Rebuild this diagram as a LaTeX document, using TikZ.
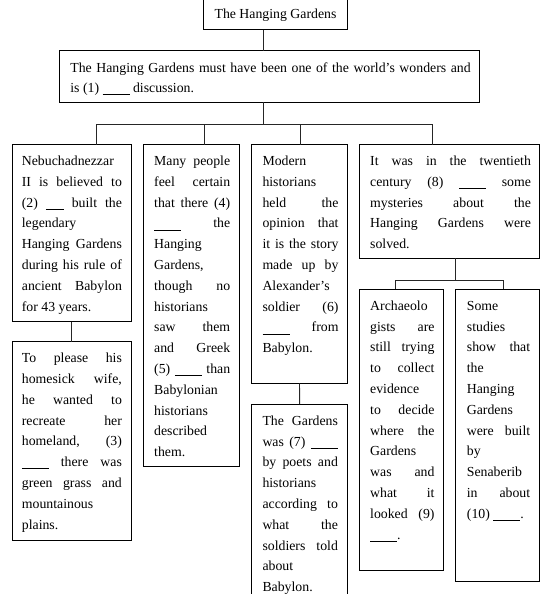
\documentclass[tikz,border=0pt]{standalone}
\usepackage{fontspec}
\setmainfont{Liberation Serif}
\newcommand{\blnk}[1][27pt]{\rule[-2.3pt]{#1}{0.7pt}}
\newcommand{\jst}[1]{\makebox[\linewidth][s]{#1}\par}
\newcommand{\lft}[1]{\makebox[\linewidth][l]{#1}\par}
\newcommand{\para}[2]{\parbox[t]{#1}{\fontsize{13.8}{20.8}\selectfont\parskip=0pt\relax #2}}
\begin{document}
\begin{tikzpicture}[x=1pt,y=-1pt,
  box/.style={draw=black, line width=0.9pt, inner sep=0pt, outer sep=0pt, anchor=north west, fill=none},
  txt/.style={inner sep=0pt, anchor=base west},
  link/.style={draw=black!85, line width=0.9pt}]
\useasboundingbox (0,0) rectangle (551,594);
\clip (0,0) rectangle (551,594);
% boxes
\node[box, minimum width=144.4pt, minimum height=31pt] (top) at (203.3,-1.3) {};
\node[box, minimum width=419.3pt, minimum height=51.6pt] (mid) at (59.7,50.7) {};
\node[box, minimum width=119.7pt, minimum height=177.2pt] (a) at (12,144.5) {};
\node[box, minimum width=119.7pt, minimum height=198.3pt] (a2) at (12,341.7) {};
\node[box, minimum width=96pt, minimum height=322.2pt] (b) at (143.3,144.5) {};
\node[box, minimum width=96.4pt, minimum height=238.8pt] (c) at (251.3,144.5) {};
\node[box, minimum width=96pt, minimum height=200pt] (c2) at (251.7,404.3) {};
\node[box, minimum width=180pt, minimum height=113.8pt] (d) at (359.3,144.5) {};
\node[box, minimum width=84.2pt, minimum height=281.4pt] (d1) at (359.3,289.3) {};
\node[box, minimum width=84.1pt, minimum height=291.7pt] (d2) at (455.2,289.3) {};
% texts
\node[inner sep=0pt, anchor=base] (ttop) at (275.5,18.8) {\fontsize{13.8}{20.8}\selectfont The Hanging Gardens};
\node[txt] (tmid) at (70.2,72) {\para{400.3pt}{%
\jst{The Hanging Gardens must have been one of the world’s wonders and}
\lft{is (1) \blnk{} discussion.}}};
\node[txt] (ta) at (21.7,165.5) {\para{100pt}{%
\lft{Nebuchadnezzar}
\jst{II is believed to}
\jst{(2) \blnk[18pt] built the}
\lft{legendary}
\jst{Hanging Gardens}
\jst{during his rule of}
\jst{ancient Babylon}
\lft{for 43 years.}}};
\node[txt] (ta2) at (21.7,362.7) {\para{100pt}{%
\jst{To please his}
\jst{homesick wife,}
\jst{he wanted to}
\jst{recreate her}
\jst{homeland, (3)}
\jst{\blnk{} there was}
\jst{green grass and}
\lft{mountainous}
\lft{plains.}}};
\node[txt] (tb) at (154,165.5) {\para{76pt}{%
\jst{Many people}
\jst{feel certain}
\jst{that there (4)}
\jst{\blnk{} the}
\lft{Hanging}
\lft{Gardens,}
\jst{though no}
\lft{historians}
\jst{saw them}
\jst{and Greek}
\jst{(5) \blnk{} than}
\lft{Babylonian}
\lft{historians}
\lft{described}
\lft{them.}}};
\node[txt] (tc) at (262.3,165.5) {\para{76pt}{%
\lft{Modern}
\lft{historians}
\jst{held the}
\jst{opinion that}
\jst{it is the story}
\jst{made up by}
\lft{Alexander’s}
\jst{soldier (6)}
\jst{\blnk{} from}
\lft{Babylon.}}};
\node[txt] (tc2) at (262.3,425.3) {\para{75.4pt}{%
\jst{The Gardens}
\jst{was (7) \blnk}
\jst{by poets and}
\lft{historians}
\jst{according to}
\jst{what the}
\jst{soldiers told}
\lft{about}
\lft{Babylon.}}};
\node[txt] (td) at (370,165.5) {\para{160.7pt}{%
\jst{It was in the twentieth}
\jst{century (8) \blnk{} some}
\jst{mysteries about the}
\jst{Hanging Gardens were}
\lft{solved.}}};
\node[txt] (td1) at (370,310.3) {\para{64.3pt}{%
\lft{Archaeolo}
\jst{gists are}
\jst{still trying}
\jst{to collect}
\lft{evidence}
\jst{to decide}
\jst{where the}
\lft{Gardens}
\jst{was and}
\jst{what it}
\jst{looked (9)}
\lft{\blnk.}}};
\node[txt] (td2) at (466.7,310.3) {\para{63.3pt}{%
\lft{Some}
\lft{studies}
\jst{show that}
\lft{the}
\lft{Hanging}
\lft{Gardens}
\jst{were built}
\lft{by}
\lft{Senaberib}
\jst{in about}
\lft{(10) \blnk.}}};
% connector coordinates
\coordinate (xt) at (263.3,0);
\coordinate (bus) at (0,124);
\coordinate (xa) at (96,0);
\coordinate (xb) at (204,0);
\coordinate (xc) at (300,0);
\coordinate (xd) at (432,0);
\coordinate (xdd) at (455.7,0);
\coordinate (bus2) at (0,280);
\coordinate (xd1) at (395.7,0);
\coordinate (xd2) at (503.3,0);
% connectors
\draw[link] (xt |- top.south) -- (xt |- mid.north);
\draw[link] (xt |- mid.south) -- (xt |- bus);
\draw[link] (xa |- bus) -- (xd |- bus);
\draw[link] (xa |- bus) -- (xa |- a.north);
\draw[link] (xb |- bus) -- (xb |- b.north);
\draw[link] (xc |- bus) -- (xc |- c.north);
\draw[link] (xd |- bus) -- (xd |- d.north);
\draw[link] (a.south) -- (a2.north);
\draw[link] (c.south) -- (c2.north);
\draw[link] (xdd |- d.south) -- (xdd |- bus2);
\draw[link] (xd1 |- bus2) -- (xd2 |- bus2);
\draw[link] (xd1 |- bus2) -- (xd1 |- d1.north);
\draw[link] (xd2 |- bus2) -- (xd2 |- d2.north);
\end{tikzpicture}
\end{document}
